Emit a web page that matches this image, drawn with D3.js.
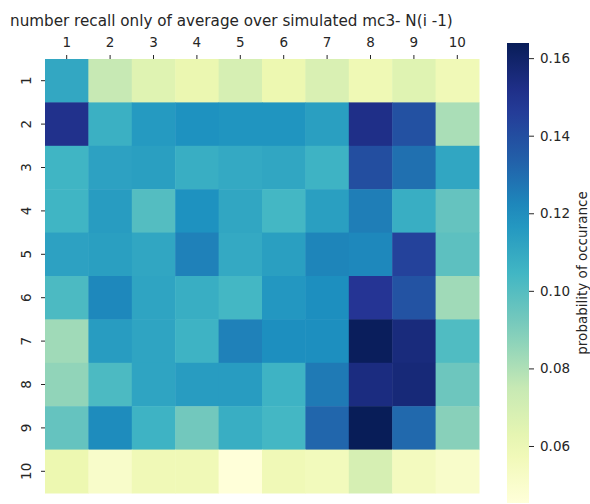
<!DOCTYPE html>
<html><head><meta charset="utf-8">
<script src="https://cdn.jsdelivr.net/npm/d3@7"></script>
<style>body{margin:0;background:#fff}text{font-family:"DejaVu Sans",sans-serif;fill:#262626}</style>
</head><body><svg id="c" width="590" height="504"></svg>
<script>
const title = "number recall only of average over simulated mc3- N(i -1)";
const xLabels = ["1","2","3","4","5","6","7","8","9","10"];
const yLabels = ["1","2","3","4","5","6","7","8","9","10"];
const values = [
 [0.1105,0.075,0.0655,0.061,0.069,0.060,0.068,0.0585,0.0655,0.058],
 [0.151,0.107,0.116,0.119,0.118,0.118,0.114,0.152,0.139,0.081],
 [0.105,0.113,0.114,0.108,0.110,0.111,0.106,0.140,0.129,0.111],
 [0.105,0.115,0.100,0.119,0.111,0.104,0.114,0.125,0.108,0.096],
 [0.113,0.114,0.111,0.124,0.110,0.114,0.123,0.122,0.144,0.098],
 [0.102,0.122,0.112,0.108,0.104,0.117,0.120,0.149,0.138,0.083],
 [0.083,0.115,0.112,0.106,0.124,0.120,0.120,0.163,0.155,0.101],
 [0.086,0.102,0.112,0.115,0.115,0.106,0.126,0.154,0.156,0.094],
 [0.096,0.121,0.106,0.093,0.108,0.104,0.132,0.1639,0.131,0.088],
 [0.060,0.051,0.058,0.058,0.0453,0.058,0.056,0.069,0.055,0.051]
];
const cbTicks = [0.06,0.08,0.10,0.12,0.14,0.16];
const cbLabel = "probability of occurance";
const ylgnbu = ["#ffffd9","#edf8b1","#c7e9b4","#7fcdbb","#41b6c4","#1d91c0","#225ea8","#253494","#081d58"];

const svg = d3.select("#c");
const L=45, T=59, W=434, H=434;
const vmin = d3.min(values.flat()), vmax = d3.max(values.flat());
const color = d3.scaleLinear()
  .domain(ylgnbu.map((c,i)=>vmin+(vmax-vmin)*i/(ylgnbu.length-1)))
  .range(ylgnbu).interpolate(d3.interpolateRgb).clamp(true);

const x = d3.scaleBand().domain(xLabels).range([L,L+W]);
const y = d3.scaleBand().domain(yLabels).range([T,T+H]);

const cells = [];
values.forEach((row,i)=>row.forEach((v,j)=>cells.push({r:yLabels[i],c:xLabels[j],v})));
svg.append("g").selectAll("rect").data(cells).join("rect")
  .attr("x",d=>x(d.c)).attr("y",d=>y(d.r))
  .attr("width",x.bandwidth()+0.5).attr("height",y.bandwidth()+0.5)
  .attr("fill",d=>color(d.v));

const FS = "13.5px";
// top x axis
const gx = svg.append("g").attr("transform",`translate(0,${T})`)
  .call(d3.axisTop(x).tickSize(4).tickPadding(8.5));
gx.select(".domain").remove();
gx.selectAll("line").attr("stroke","#262626");
gx.selectAll("text").style("font-size",FS).attr("fill","#262626");

// left y axis with rotated labels
const gy = svg.append("g").attr("transform",`translate(${L},0)`)
  .call(d3.axisLeft(y).tickSize(4).tickPadding(4));
gy.select(".domain").remove();
gy.selectAll("line").attr("stroke","#262626");
gy.selectAll("text").style("font-size",FS).attr("fill","#262626")
  .attr("text-anchor","middle").attr("dy",null).attr("x",null)
  .attr("transform","translate(-18.5,0) rotate(-90)").attr("dominant-baseline","middle");

// title
svg.append("text").attr("x",10).attr("y",26).style("font-size","15.2px").text(title);

// colorbar
const cbX=507, cbW=22, cbT=43, cbB=503;
const cy = d3.scaleLinear().domain([vmin,vmax]).range([cbB,cbT]);
const defs = svg.append("defs");
const grad = defs.append("linearGradient").attr("id","g").attr("x1",0).attr("y1",1).attr("x2",0).attr("y2",0);
d3.range(0,1.0001,0.05).forEach(t=>grad.append("stop").attr("offset",t).attr("stop-color",color(vmin+(vmax-vmin)*t)));
svg.append("rect").attr("x",cbX).attr("y",cbT).attr("width",cbW).attr("height",cbB-cbT).attr("fill","url(#g)");
const gc = svg.append("g").attr("transform",`translate(${cbX+cbW},0)`)
  .call(d3.axisRight(cy).tickValues(cbTicks).tickFormat(d3.format(".2f")).tickSize(5).tickPadding(6));
gc.select(".domain").remove();
gc.selectAll("line").attr("stroke","#262626");
gc.selectAll("text").style("font-size",FS).attr("fill","#262626");
svg.append("text").attr("transform",`translate(583,${(cbT+cbB)/2}) rotate(-90)`)
  .attr("text-anchor","middle").attr("dominant-baseline","middle").style("font-size",FS).text(cbLabel);
</script></body></html>
